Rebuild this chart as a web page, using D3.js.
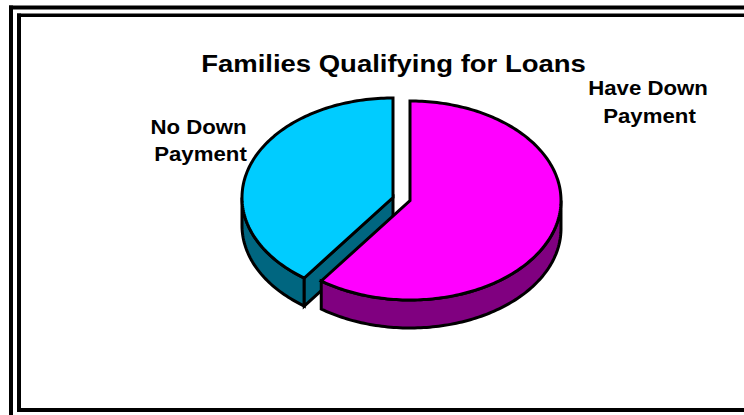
<!DOCTYPE html>
<html>
<head>
<meta charset="utf-8">
<script src="https://cdnjs.cloudflare.com/ajax/libs/d3/7.8.5/d3.min.js"></script>
<style>
html,body{margin:0;padding:0;background:#fff;overflow:hidden}
svg{display:block}
text{font-family:"Liberation Sans",Arial,sans-serif;font-weight:bold;fill:#000}
</style>
</head>
<body>
<svg id="chart" width="744" height="415"></svg>
<script>
const categories = ["Have Down Payment", "No Down Payment"];
const shares = [60, 40];
const topColors = ["#ff00ff", "#00ccff"];
const sideColors = ["#800080", "#006680"];
const chartTitle = "Families Qualifying for Loans";
const labelLines = [["Have Down", "Payment"], ["No Down", "Payment"]];

const svg = d3.select("#chart");

// Double rule framing the page
const frame = svg.append("g").attr("fill", "#000");
[[9, 5.5, 735, 4], [9, 5.5, 4, 410], [17, 13.5, 727, 3.5], [17, 13.5, 4, 398.5], [17, 408, 727, 4]].forEach(r =>
  frame.append("rect").attr("x", r[0]).attr("y", r[1]).attr("width", r[2]).attr("height", r[3]));

// Tilted pie: each wedge has an apex on screen, radii give the squash of the ellipse
const depth = 28, rx = 151, ry = 99.5;
const apexes = [[410, 200.5], [393, 197.5]];
const arcs = d3.pie().value(d => d).sort(null)(shares);

const px = (a, i) => apexes[i][0] + rx * Math.sin(a);
const py = (a, i) => apexes[i][1] - ry * Math.cos(a);
const line = d3.line();

function rim(a0, a1, i, dy = 0) {
  const n = Math.max(2, Math.ceil(Math.abs(a1 - a0) / 0.02));
  return d3.range(n + 1).map(k => {
    const a = a0 + (a1 - a0) * k / n;
    return [px(a, i), py(a, i) + dy];
  });
}

const pieG = svg.append("g")
  .attr("stroke", "#000").attr("stroke-width", 3).attr("stroke-linejoin", "miter");

function drawSide(i, a0, a1) {
  const pts = rim(a0, a1, i).concat(rim(a1, a0, i, depth));
  pieG.append("path").attr("d", line(pts) + "Z").attr("fill", sideColors[i]);
}
function drawTop(i) {
  const a = arcs[i];
  const pts = [apexes[i]].concat(rim(a.startAngle, a.endAngle, i));
  pieG.append("path").attr("d", line(pts) + "Z").attr("fill", topColors[i]);
}

// Back-to-front: blue wedge with its cut face, then the magenta wedge
const blue = arcs[1], mag = arcs[0];
drawSide(1, blue.startAngle, 1.5 * Math.PI);
pieG.append("path")
  .attr("d", line([apexes[1], [px(blue.startAngle, 1), py(blue.startAngle, 1)],
    [px(blue.startAngle, 1), py(blue.startAngle, 1) + depth], [apexes[1][0], apexes[1][1] + depth]]) + "Z")
  .attr("fill", sideColors[1]);
drawTop(1);
drawSide(0, Math.PI / 2, mag.endAngle);
drawTop(0);

// Title and wedge labels use a widened bold face
function wideText(x, y, size, stretch, str) {
  svg.append("text")
    .attr("transform", `translate(${x},${y}) scale(${stretch},1)`)
    .attr("text-anchor", "middle").attr("font-size", size).text(str);
}
wideText(393.5, 72, 24.5, 1.122, chartTitle);
const labelPos = [[[648, 95], [649.5, 123]], [[198.5, 134], [200.5, 161]]];
labelLines.forEach((lines, i) => lines.forEach((t, j) =>
  wideText(labelPos[i][j][0], labelPos[i][j][1], 19.5, 1.14, t)));
</script>
</body>
</html>
